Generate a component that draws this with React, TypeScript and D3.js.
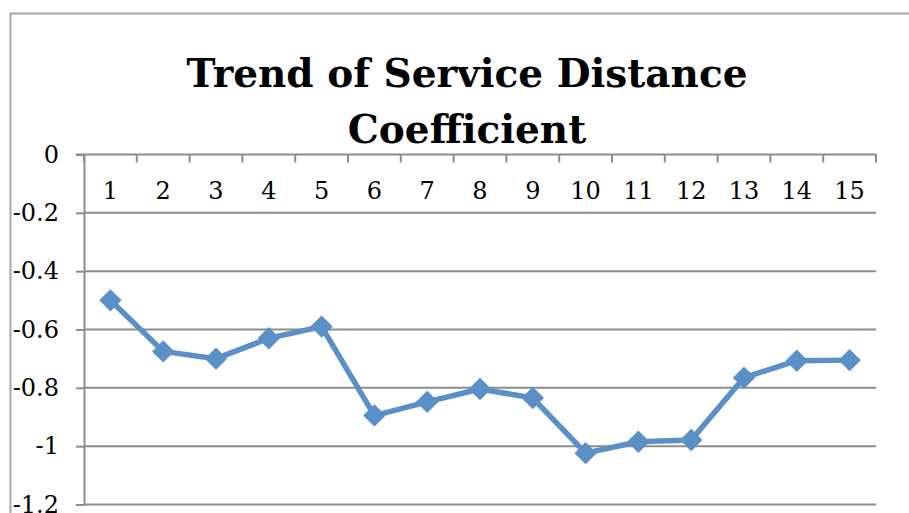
import React from 'react';
import * as d3 from 'd3';

// categories and values
const categories = ['1', '2', '3', '4', '5', '6', '7', '8', '9', '10', '11', '12', '13', '14', '15'];
const coefficient = [-0.5, -0.675, -0.7, -0.63, -0.59, -0.895, -0.848, -0.804, -0.835, -1.024, -0.985, -0.979, -0.765, -0.707, -0.705];
const yTicks = [0, -0.2, -0.4, -0.6, -0.8, -1, -1.2];
const titleLines = ['Trend of Service Distance', 'Coefficient'];

export default function App() {
  const svgRef = React.useRef<SVGSVGElement>(null);

  const width = 909;
  const height = 513;
  //plot area in page pixels
  const plot = { left: 84, right: 876, top: 154.5, bottom: 504.5 };
  const font = '"DejaVu Serif", "Liberation Serif", serif';

  React.useEffect(() => {
    const svg = d3.select(svgRef.current);
    svg.selectAll('*').remove();

    const x = d3.scaleBand<string>().domain(categories).range([plot.left, plot.right]);
    const y = d3.scaleLinear().domain([-1.2, 0]).range([plot.bottom, plot.top]);

    // chart frame
    svg.append('rect')
      .attr('x', 10.5).attr('y', 13.5)
      .attr('width', 1000).attr('height', 1000)
      .attr('fill', 'white').attr('stroke', '#a6a6a6').attr('stroke-width', 2);

    // title
    svg.append('text')
      .attr('x', 467).attr('y', 87)
      .attr('text-anchor', 'middle')
      .attr('font-family', font).attr('font-weight', 'bold').attr('font-size', 39)
      .selectAll('tspan')
      .data(titleLines)
      .enter()
      .append('tspan')
      .attr('x', 467)
      .attr('dy', (d, i) => (i === 0 ? 0 : 56))
      .text((d) => d);

    // horizontal gridlines + y labels
    const yAxis = d3.axisLeft(y).tickValues(yTicks).tickSize(8).tickPadding(17)
      .tickFormat((d) => String(+d));
    const yg = svg.append('g').attr('transform', `translate(${plot.left},0)`).call(yAxis);
    yg.select('.domain').attr('stroke', '#8c8c8c').attr('stroke-width', 2);
    yg.selectAll('.tick line').attr('stroke', '#8c8c8c').attr('stroke-width', 2);
    yg.selectAll('.tick text')
      .attr('font-family', font).attr('font-size', 24).attr('fill', '#000');

    const grid = svg.append('g');
    grid.selectAll('line')
      .data(yTicks.filter((d) => d !== 0))
      .enter()
      .append('line')
      .attr('x1', plot.left).attr('x2', plot.right)
      .attr('y1', (d) => y(d)).attr('y2', (d) => y(d))
      .attr('stroke', '#8c8c8c').attr('stroke-width', 2);

    // category axis at zero, ticks pointing down, labels below
    const xAxis = d3.axisBottom(x).tickSize(0).tickPadding(27);
    const xg = svg.append('g').attr('transform', `translate(0,${y(0)})`).call(xAxis);
    xg.select('.domain').remove();
    xg.selectAll('.tick text')
      .attr('font-family', font).attr('font-size', 24).attr('fill', '#000');
    svg.append('line')
      .attr('x1', plot.left - 8).attr('x2', plot.right)
      .attr('y1', y(0)).attr('y2', y(0))
      .attr('stroke', '#8c8c8c').attr('stroke-width', 2);
    const bounds = categories.map((c) => x(c) as number).concat([plot.right]);
    svg.append('g').selectAll('line')
      .data(bounds)
      .enter()
      .append('line')
      .attr('x1', (d) => d).attr('x2', (d) => d)
      .attr('y1', y(0)).attr('y2', y(0) + 8)
      .attr('stroke', '#8c8c8c').attr('stroke-width', 2);

    // the series
    const cx = (i: number) => (x(categories[i]) as number) + x.bandwidth() / 2;
    const line = d3.line<number>()
      .x((d, i) => cx(i))
      .y((d) => y(d));
    svg.append('path')
      .datum(coefficient)
      .attr('d', line)
      .attr('fill', 'none')
      .attr('stroke', '#5a8fc7')
      .attr('stroke-width', 5.5)
      .attr('stroke-linejoin', 'round');

    const diamond = d3.symbol().type(d3.symbolDiamond2).size(320);
    svg.append('g').selectAll('path')
      .data(coefficient)
      .enter()
      .append('path')
      .attr('d', diamond)
      .attr('transform', (d, i) => `translate(${cx(i)},${y(d)})`)
      .attr('fill', '#5a8fc7');
  }, []);

  return (
    <svg ref={svgRef} width={width} height={height}
      style={{ position: 'absolute', left: 0, top: 0, background: 'white' }} />
  );
}
